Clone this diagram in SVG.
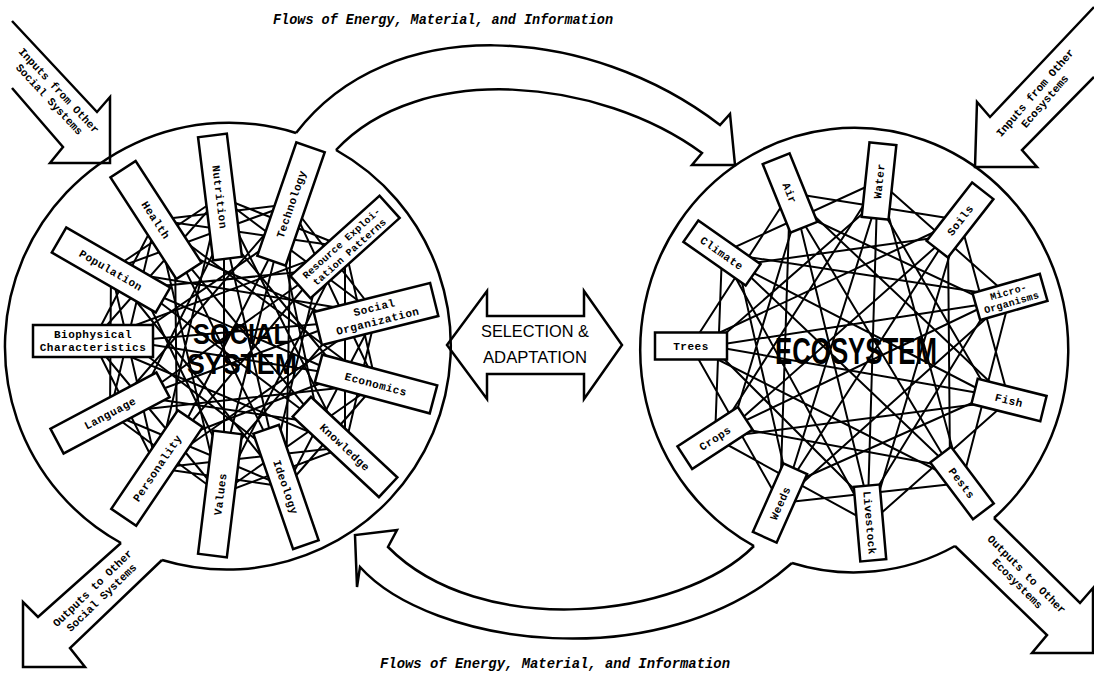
<svg xmlns="http://www.w3.org/2000/svg" width="1094" height="680" viewBox="0 0 1094 680">
<style>
.bg{fill:#fff}
.circ{stroke:#000;stroke-width:2.5;fill:none}
.arw{stroke:#000;stroke-width:2.5;fill:none;stroke-linejoin:miter}
.web{stroke:#000;stroke-width:2;fill:none;stroke-linejoin:round}
.box rect{fill:#fff;stroke:#000;stroke-width:2.5}
.lbl{font-family:"Liberation Mono","DejaVu Sans Mono",monospace;font-weight:bold;font-size:11px;text-anchor:middle;letter-spacing:0.5px;fill:#000}
.sm{font-size:10px;letter-spacing:0.3px}
.big{font-family:"Liberation Sans",Arial,sans-serif;font-weight:bold;fill:#000}
.mid{font-family:"Liberation Sans",Arial,sans-serif;font-size:17px;text-anchor:middle;fill:#000}
.flow{font-family:"Liberation Mono","DejaVu Sans Mono",monospace;font-style:italic;font-weight:bold;font-size:15px;fill:#000}
.io{font-family:"Liberation Mono","DejaVu Sans Mono",monospace;font-weight:bold;font-size:11px;text-anchor:middle;fill:#000}
</style>
<rect class="bg" x="0" y="0" width="1094" height="680"/>

<text class="flow" x="273" y="24" textLength="340" lengthAdjust="spacingAndGlyphs">Flows of Energy, Material, and Information</text>
<text class="flow" x="380" y="668" textLength="350" lengthAdjust="spacingAndGlyphs">Flows of Energy, Material, and Information</text>

<g id="circles">
<path class="circ" d="M336,150 A224,224 0 0 1 162,560"/>
<path class="circ" d="M121,543 A224,224 0 0 1 296,133"/>
<path class="circ" d="M754,546 A214,222 0 1 1 994,518"/>
<path class="circ" d="M955,546 A214,222 0 0 1 792,563"/>
</g>

<g id="flow-top">
<path class="arw" d="M296,133 C390,10 590,25 720,125 L730,114 L735,165 L692,165 L702,153 C600,78 420,60 336,150"/>
</g>
<g id="flow-bottom">
<path class="arw" d="M754,546 C680,620 480,640 388,547 L397,530 L355,535 L357,587 L360,567 C430,645 660,680 792,563"/>
</g>

<g id="inputs-social">
<path class="arw" d="M12,21 L97,112 L110,97 L110,163 L50,163 L63,147 L12,88"/>
<g transform="translate(54,95) rotate(47)"><text class="io" x="0" y="-3">Inputs from Other</text><text class="io" x="0" y="10">Social Systems</text></g>
</g>
<g id="inputs-eco">
<path class="arw" d="M1094,7 L990,117 L977,102 L975,167 L1037,167 L1022,150 L1094,77"/>
<g transform="translate(1040,97) rotate(-49)"><text class="io" x="0" y="-3">Inputs from Other</text><text class="io" x="0" y="10">Ecosystems</text></g>
</g>
<g id="outputs-social">
<path class="arw" d="M121,543 L38,617 L23,602 L23,667 L85,667 L70,648 L162,560"/>
<g transform="translate(97,593) rotate(-44)"><text class="io" x="0" y="-3">Outputs to Other</text><text class="io" x="0" y="10">Social Systems</text></g>
</g>
<g id="outputs-eco">
<path class="arw" d="M994,518 L1080,603 L1093,588 L1093,653 L1032,653 L1047,635 L955,546"/>
<g transform="translate(1022,579) rotate(45)"><text class="io" x="0" y="-3">Outputs to Other</text><text class="io" x="0" y="10">Ecosystems</text></g>
</g>

<g id="selection-adaptation">
<polygon class="arw" fill="#fff" points="447,345 487,291 487,316 584,316 584,291 622,345 584,399 584,374 487,374 487,399"/>
<text class="mid" x="535" y="337" textLength="108" lengthAdjust="spacingAndGlyphs">SELECTION &amp;</text>
<text class="mid" x="535" y="363" textLength="104" lengthAdjust="spacingAndGlyphs">ADAPTATION</text>
</g>

<g id="titles">
<text class="big" x="193" y="344" font-size="29" textLength="96" lengthAdjust="spacingAndGlyphs">SOCIAL</text>
<text class="big" x="187" y="374" font-size="29" textLength="110" lengthAdjust="spacingAndGlyphs">SYSTEM</text>
<text class="big" x="775" y="364" font-size="36" textLength="162" lengthAdjust="spacingAndGlyphs">ECOSYSTEM</text>
</g>

<g id="connectors">
<polygon class="web" points="156,220 345,247 345,447 157,468 111,270 291,204 376,384 220,494 93,341 220,197 376,314 286,487 110,413"/>
<polygon class="web" points="156,220 376,384 110,413 291,204 286,487 111,270 376,314 157,468 220,197 345,447 93,341 345,247 220,494"/>
<polygon class="web" points="175,249 342,322 224,459 141,288 319,270 275,454 128,341 280,237 319,423 141,397 224,232 342,375 177,439"/>
<polygon class="web" points="175,249 319,423 141,288 342,375 128,341 342,322 141,397 319,270 177,439 280,237 224,459 224,232 275,454"/>
<polygon class="web" points="156,220 291,204 376,314 345,447 220,494 110,413 111,270 220,197 345,247 376,384 286,487 157,468 93,341"/>
<polygon class="web" points="790,193 960,220 1009,400 870,523 715,438 722,253 879,181 1010,297 962,483 780,503 691,346"/>
<polygon class="web" points="797,212 991,303 868,503 711,346 877,201 990,395 788,485 738,265 948,236 950,467 732,427"/>
<polygon class="web" points="790,193 1009,400 715,438 879,181 962,483 691,346 960,220 870,523 722,253 1010,297 780,503"/>
<polygon class="web" points="797,212 950,467 738,265 990,395 711,346 991,303 732,427 948,236 788,485 877,201 868,503"/>
</g>

<g id="health" class="box" transform="translate(156,220) rotate(57)"><rect x="-60.5" y="-15" width="121" height="30"/><text class="lbl" x="0" y="4">Health</text></g>
<g id="nutrition" class="box" transform="translate(220,197) rotate(83)"><rect x="-62" y="-14.5" width="124" height="29"/><text class="lbl" x="0" y="4">Nutrition</text></g>
<g id="technology" class="box" transform="translate(291,204) rotate(-71)"><rect x="-60" y="-15" width="120" height="30"/><text class="lbl" x="0" y="4">Technology</text></g>
<g id="resource-exploitation" class="box" transform="translate(345,247) rotate(-42)"><rect x="-60" y="-15" width="120" height="30"/><text class="lbl sm" x="0" y="-2">Resource Exploi-</text><text class="lbl sm" x="0" y="10">tation Patterns</text></g>
<g id="social-organization" class="box" transform="translate(376,314) rotate(-14)"><rect x="-60" y="-17" width="120" height="34"/><text class="lbl" x="0" y="-3">Social</text><text class="lbl" x="0" y="11">Organization</text></g>
<g id="economics" class="box" transform="translate(376,384) rotate(15)"><rect x="-59.5" y="-14.5" width="119" height="29"/><text class="lbl" x="0" y="4">Economics</text></g>
<g id="knowledge" class="box" transform="translate(345,447) rotate(43)"><rect x="-59" y="-13.5" width="118" height="27"/><text class="lbl" x="0" y="4">Knowledge</text></g>
<g id="ideology" class="box" transform="translate(286,487) rotate(71)"><rect x="-61" y="-13.5" width="122" height="27"/><text class="lbl" x="0" y="4">Ideology</text></g>
<g id="values" class="box" transform="translate(220,494) rotate(-83)"><rect x="-62" y="-14.5" width="124" height="29"/><text class="lbl" x="0" y="4">Values</text></g>
<g id="personality" class="box" transform="translate(157,468) rotate(-56)"><rect x="-59.5" y="-15" width="119" height="30"/><text class="lbl" x="0" y="4">Personality</text></g>
<g id="language" class="box" transform="translate(110,413) rotate(-28)"><rect x="-60" y="-14" width="120" height="28"/><text class="lbl" x="0" y="4">Language</text></g>
<g id="biophysical" class="box" transform="translate(93,341)"><rect x="-60" y="-16" width="120" height="32"/><text class="lbl" x="0" y="-3">Biophysical</text><text class="lbl" x="0" y="10">Characteristics</text></g>
<g id="population" class="box" transform="translate(111,270) rotate(30)"><rect x="-60" y="-14.5" width="120" height="29"/><text class="lbl" x="0" y="4">Population</text></g>

<g id="air" class="box" transform="translate(790,193) rotate(68)"><rect x="-37" y="-14.5" width="74" height="29"/><text class="lbl" x="0" y="4">Air</text></g>
<g id="water" class="box" transform="translate(879,181) rotate(-84)"><rect x="-37.5" y="-13.5" width="75" height="27"/><text class="lbl" x="0" y="4">Water</text></g>
<g id="soils" class="box" transform="translate(960,220) rotate(-52)"><rect x="-37" y="-13.5" width="74" height="27"/><text class="lbl" x="0" y="4">Soils</text></g>
<g id="micro-organisms" class="box" transform="translate(1010,297) rotate(-16)"><rect x="-35" y="-14" width="70" height="28"/><text class="lbl sm" x="0" y="-2">Micro-</text><text class="lbl sm" x="0" y="9">Organisms</text></g>
<g id="fish" class="box" transform="translate(1009,400) rotate(14)"><rect x="-35.5" y="-13" width="71" height="26"/><text class="lbl" x="0" y="4">Fish</text></g>
<g id="pests" class="box" transform="translate(962,483) rotate(53)"><rect x="-35.5" y="-13" width="71" height="26"/><text class="lbl" x="0" y="4">Pests</text></g>
<g id="livestock" class="box" transform="translate(870,523) rotate(85)"><rect x="-37.5" y="-13" width="75" height="26"/><text class="lbl" x="0" y="4">Livestock</text></g>
<g id="weeds" class="box" transform="translate(780,503) rotate(-66)"><rect x="-37.5" y="-13" width="75" height="26"/><text class="lbl" x="0" y="4">Weeds</text></g>
<g id="crops" class="box" transform="translate(715,438) rotate(-33)"><rect x="-36" y="-13.5" width="72" height="27"/><text class="lbl" x="0" y="4">Crops</text></g>
<g id="trees" class="box" transform="translate(691,346)"><rect x="-36" y="-13.5" width="72" height="27"/><text class="lbl" x="0" y="4">Trees</text></g>
<g id="climate" class="box" transform="translate(722,253) rotate(35)"><rect x="-38" y="-13" width="76" height="26"/><text class="lbl" x="0" y="4">Climate</text></g>
</svg>
